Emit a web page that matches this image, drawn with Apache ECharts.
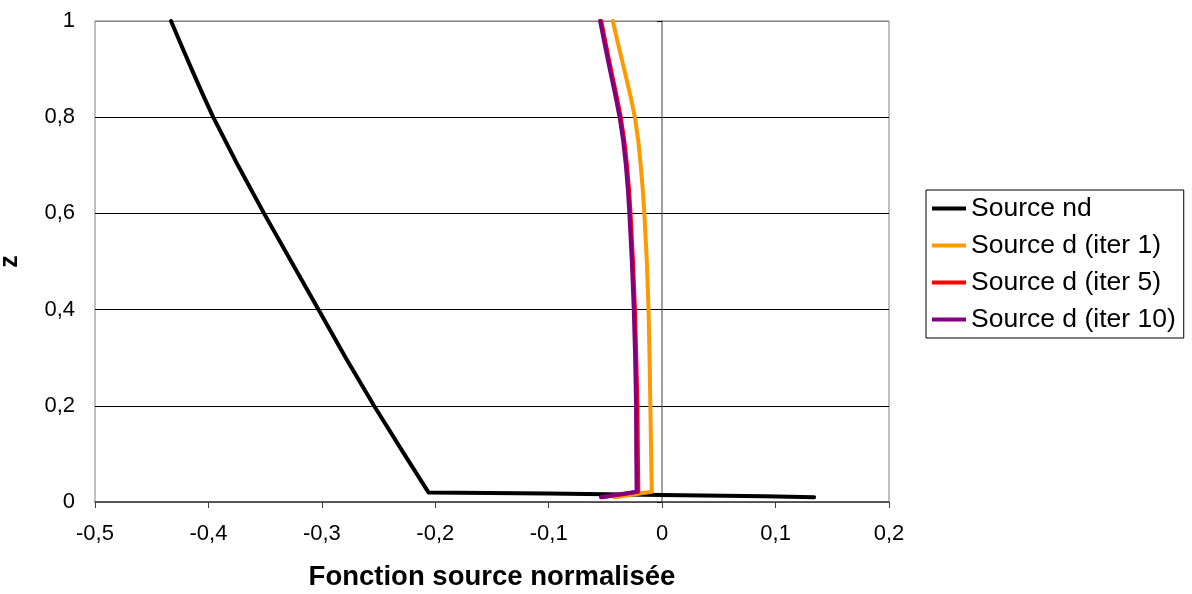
<!DOCTYPE html>
<html>
<head>
<meta charset="utf-8">
<script src="https://cdn.jsdelivr.net/npm/echarts@6/dist/echarts.min.js"></script>
<style>
html,body{margin:0;padding:0;background:#fff;}
#chart{width:1192px;height:594px;}
</style>
</head>
<body>
<div id="chart"></div>
<script>
// Data: [x (normalised source), z]
var seriesNames = ['Source nd', 'Source d (iter 1)', 'Source d (iter 5)', 'Source d (iter 10)'];
var seriesColors = ['#000000', '#FF9900', '#FF0000', '#800080'];

var sourceNd = [
  [-0.433, 1.0], [-0.4240, 0.95], [-0.4148, 0.9], [-0.4055, 0.85], [-0.3958, 0.8], [-0.374, 0.7], [-0.351, 0.6],
  [-0.327, 0.5], [-0.303, 0.4], [-0.279, 0.3], [-0.254, 0.2], [-0.2275, 0.1],
  [-0.206, 0.020], [-0.100, 0.0175], [0.000, 0.0146], [0.090, 0.0120], [0.134, 0.0100]
];
var sourceIter1 = [
  [-0.0435, 1.0], [-0.0386, 0.95], [-0.0335, 0.9], [-0.0285, 0.85], [-0.0240, 0.8], [-0.0210, 0.75],
  [-0.0189, 0.7], [-0.0171, 0.65], [-0.0157, 0.6], [-0.0135, 0.5], [-0.0120, 0.4], [-0.0111, 0.3],
  [-0.0104, 0.2], [-0.0097, 0.1], [-0.0091, 0.0215], [-0.0420, 0.0098]
];
var sourceIter5 = [
  [-0.0537, 1.0], [-0.0495, 0.95], [-0.0452, 0.9], [-0.0407, 0.85], [-0.0365, 0.8], [-0.0333, 0.75],
  [-0.0310, 0.7], [-0.0292, 0.65], [-0.0279, 0.6], [-0.0257, 0.5], [-0.0240, 0.4], [-0.0228, 0.3],
  [-0.0218, 0.2], [-0.0214, 0.1], [-0.0210, 0.0215], [-0.0530, 0.0098]
];
var sourceIter10 = [
  [-0.0547, 1.0], [-0.0505, 0.95], [-0.0462, 0.9], [-0.0417, 0.85], [-0.0375, 0.8], [-0.0343, 0.75],
  [-0.0320, 0.7], [-0.0302, 0.65], [-0.0289, 0.6], [-0.0267, 0.5], [-0.0250, 0.4], [-0.0238, 0.3],
  [-0.0230, 0.2], [-0.0228, 0.1], [-0.0225, 0.0215], [-0.0540, 0.0098]
];
var seriesData = [sourceNd, sourceIter1, sourceIter5, sourceIter10];

var xTicks = {min: -0.5, max: 0.2, interval: 0.1};
var yTicks = {min: 0, max: 1, interval: 0.2};
var xTitle = 'Fonction source normalisée';
var yTitle = 'z';

function fmt(v) {
  var r = Math.round(v * 10) / 10;
  if (r === 0) return '0';
  return r.toString().replace('.', ',');
}

var FONT = '"Liberation Sans", Arial, sans-serif';

var chart = echarts.init(document.getElementById('chart'), null, {renderer: 'canvas'});
var series = seriesNames.map(function (n, i) {
  return {
    name: n,
    type: 'line',
    data: seriesData[i],
    symbol: 'none',
    showSymbol: false,
    smooth: false,
    z: 3 + i,
    lineStyle: {color: seriesColors[i], width: 4, join: 'round', cap: 'round'},
    itemStyle: {color: seriesColors[i]}
  };
});

chart.setOption({
  animation: false,
  backgroundColor: '#ffffff',
  textStyle: {fontFamily: FONT},
  grid: {
    left: 95, right: 303, top: 21, bottom: 92,
    containLabel: false,
    outerBoundsMode: 'none',
    show: true, borderColor: '#808080', borderWidth: 1, backgroundColor: 'transparent'
  },
  legend: {
    orient: 'vertical',
    left: 926, top: 190,
    padding: [5, 8, 5, 6],
    itemGap: 10,
    itemWidth: 34, itemHeight: 4,
    icon: 'rect',
    borderColor: '#000', borderWidth: 1,
    textStyle: {fontFamily: FONT, fontSize: 26.5, color: '#000', padding: [0, 0, 0, 0]},
    data: seriesNames
  },
  xAxis: {
    type: 'value',
    min: xTicks.min, max: xTicks.max, interval: xTicks.interval,
    name: xTitle,
    nameLocation: 'middle',
    nameGap: 61,
    nameTextStyle: {fontFamily: FONT, fontSize: 27.5, fontWeight: 'bold', color: '#000'},
    axisLine: {show: true, onZero: false, lineStyle: {color: '#404040', width: 1.5}},
    axisTick: {show: true, length: 6, lineStyle: {color: '#404040', width: 1}},
    axisLabel: {formatter: fmt, fontFamily: FONT, fontSize: 22, color: '#000', margin: 21},
    splitLine: {show: false}
  },
  yAxis: [{
    type: 'value',
    min: yTicks.min, max: yTicks.max, interval: yTicks.interval,
    name: yTitle,
    nameLocation: 'middle',
    nameRotate: 90,
    nameGap: 72,
    nameTextStyle: {fontFamily: FONT, fontSize: 25, fontWeight: 'bold', color: '#000'},
    axisLine: {show: false, onZero: false},
    axisTick: {show: false},
    axisLabel: {formatter: fmt, fontFamily: FONT, fontSize: 22, color: '#000', margin: 20},
    splitLine: {show: true, lineStyle: {color: ['#808080', '#000', '#000', '#000', '#000', '#808080'], width: 1}}
  }, {
    type: 'value',
    min: yTicks.min, max: yTicks.max, interval: yTicks.interval,
    position: 'left',
    axisLine: {show: true, onZero: true, onZeroAxisIndex: 0, lineStyle: {color: '#808080', width: 1.5}},
    axisTick: {show: true, length: 5, lineStyle: {color: '#000', width: 1}},
    axisLabel: {show: false},
    splitLine: {show: false}
  }],
  series: series
});
</script>
</body>
</html>
